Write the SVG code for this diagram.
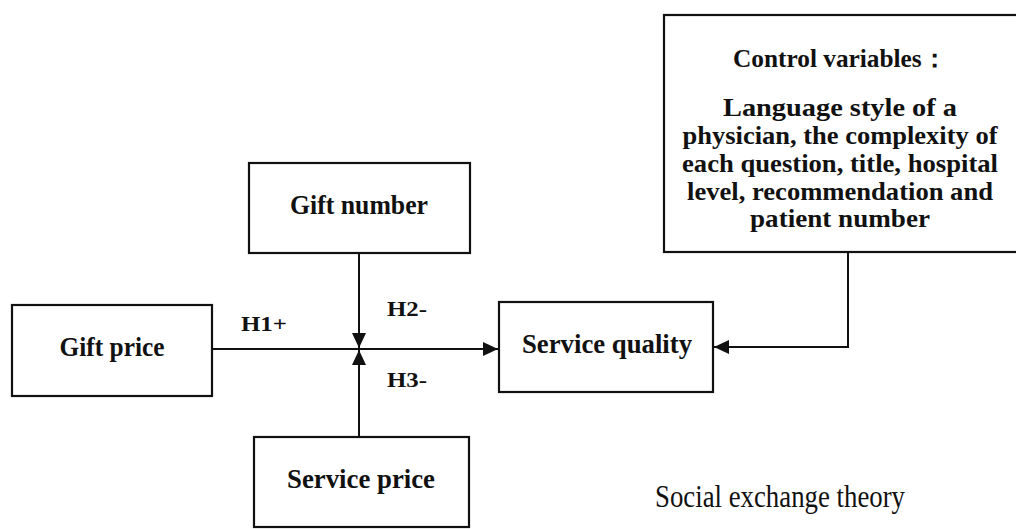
<svg xmlns="http://www.w3.org/2000/svg" width="1016" height="529" viewBox="0 0 1016 529">
<style>
.box{fill:#fff;stroke:#111;stroke-width:2.2}
.t{font-family:"Liberation Serif","DejaVu Serif",serif;font-weight:bold;font-size:27px;fill:#111;text-anchor:middle}
.c{font-size:25px}
.lab{font-family:"Liberation Serif","DejaVu Serif",serif;font-weight:bold;font-size:20px;fill:#111}
.ln{fill:none;stroke:#111;stroke-width:2}
</style>
<defs>
<marker id="ah" markerWidth="16" markerHeight="14" refX="15" refY="7" orient="auto" markerUnits="userSpaceOnUse">
<path d="M0,0 L15,7 L0,14 Z" fill="#111"/>
</marker>
</defs>
<rect width="1016" height="529" fill="#fff"/>
<g id="connectors">
<line class="ln" x1="212" y1="349" x2="498" y2="349" marker-end="url(#ah)"/>
<line class="ln" x1="359" y1="253" x2="359" y2="348" marker-end="url(#ah)"/>
<line class="ln" x1="359" y1="437" x2="359" y2="350" marker-end="url(#ah)"/>
<polyline class="ln" points="848,252 848,347 714,347" marker-end="url(#ah)"/>
<text class="lab" x="241" y="331" textLength="46" lengthAdjust="spacingAndGlyphs">H1+</text>
<text class="lab" x="387" y="316" textLength="40" lengthAdjust="spacingAndGlyphs">H2-</text>
<text class="lab" x="387" y="387" textLength="40" lengthAdjust="spacingAndGlyphs">H3-</text>
</g>
<g id="gift-price">
<rect class="box" x="12" y="305" width="200" height="91"/>
<text class="t" x="112" y="356" textLength="105" lengthAdjust="spacingAndGlyphs">Gift price</text>
</g>
<g id="gift-number">
<rect class="box" x="249" y="163" width="221" height="90"/>
<text class="t" x="359" y="214" textLength="138" lengthAdjust="spacingAndGlyphs">Gift number</text>
</g>
<g id="service-price">
<rect class="box" x="254" y="437" width="215" height="90"/>
<text class="t" x="361" y="488" textLength="148" lengthAdjust="spacingAndGlyphs">Service price</text>
</g>
<g id="service-quality">
<rect class="box" x="499" y="302" width="214" height="90"/>
<text class="t" x="607" y="353" textLength="170" lengthAdjust="spacingAndGlyphs">Service quality</text>
</g>
<g id="control-variables">
<rect class="box" x="664" y="15" width="370" height="237"/>
<text class="t c" x="840" y="67" textLength="214" lengthAdjust="spacingAndGlyphs">Control variables：</text>
<text class="t c" x="840" y="116" textLength="234" lengthAdjust="spacingAndGlyphs">Language style of a</text>
<text class="t c" x="840" y="144" textLength="315" lengthAdjust="spacingAndGlyphs">physician, the complexity of</text>
<text class="t c" x="840" y="172" textLength="316" lengthAdjust="spacingAndGlyphs">each question, title, hospital</text>
<text class="t c" x="840" y="199.5" textLength="306" lengthAdjust="spacingAndGlyphs">level, recommendation and</text>
<text class="t c" x="840" y="227" textLength="180" lengthAdjust="spacingAndGlyphs">patient number</text>
</g>
<text x="655" y="507" font-family="Liberation Serif, DejaVu Serif, serif" font-size="32" fill="#111" textLength="250" lengthAdjust="spacingAndGlyphs">Social exchange theory</text>
</svg>
